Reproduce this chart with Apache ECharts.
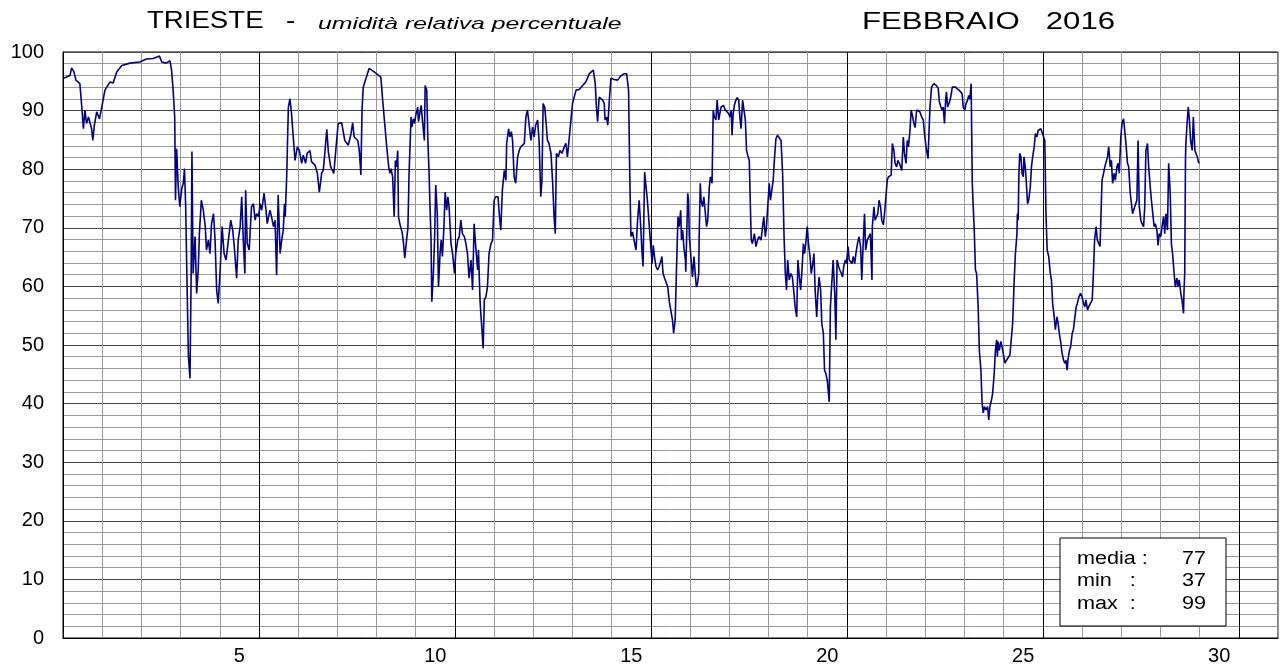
<!DOCTYPE html>
<html>
<head>
<meta charset="utf-8">
<title>Trieste - umidità relativa febbraio 2016</title>
<script src="https://cdn.jsdelivr.net/npm/echarts@6/dist/echarts.min.js"></script>
<style>
  html, body { margin: 0; padding: 0; background: #fff; }
  #chart { width: 1288px; height: 668px; }
</style>
</head>
<body>
<div id="chart"></div>
<script>
  // giorni dall'inizio del mese (0 = 1 febbraio 00:00) e umidità relativa %
  var giorni1 = [0.01,0.18,0.22,0.28,0.33,0.43,0.48,0.52,0.56,0.60,0.65,0.69,0.73,0.76,0.80,0.86,0.93,0.99,1.07,1.20,
    1.28,1.37,1.50,1.71,1.96,2.13,2.30,2.46,2.52,2.63,2.73,2.77,2.81,2.85,2.87,2.90,2.94,2.98,3.03,3.07,
    3.10,3.13,3.16,3.20,3.24,3.27,3.29,3.32,3.37,3.41,3.45,3.48,3.53,3.58,3.63,3.66,3.71,3.75,3.79,3.84,
    3.88,3.92,3.96,4.01,4.06,4.11,4.16,4.22,4.28,4.33,4.37,4.43,4.47,4.52,4.56,4.60,4.64,4.66,4.70,4.75,
    4.81,4.86,4.90,4.94,4.99,5.03,5.07,5.13,5.18,5.21,5.28,5.32,5.37,5.41,5.45,5.49,5.54,5.58,5.62,5.65,
    5.67,5.71,5.75,5.79,5.83,5.88,5.92,5.98,6.03,6.09,6.13,6.19,6.23,6.30,6.34,6.43,6.49,6.54,6.60,6.64,
    6.68,6.73,6.77,6.83,6.88,6.91,6.96,7.02,7.11,7.19,7.28];
  var umidita1 = [95.5,96.0,97.3,96.6,95.2,94.6,90.6,86.9,90.1,87.8,88.9,88.6,86.9,84.9,87.5,89.8,88.6,90.6,93.5,94.9,
    94.7,96.6,97.7,98.1,98.3,98.8,98.9,99.3,98.3,98.1,98.5,96.9,93.5,88.9,74.7,83.5,77.0,73.6,76.7,77.6,
    80.1,73.6,62.2,48.0,44.3,62.2,83.0,62.2,68.5,58.8,62.8,69.0,74.7,73.0,70.2,66.2,67.9,65.6,70.7,72.4,
    67.9,59.4,57.1,62.8,70.2,65.6,64.5,67.9,71.3,69.6,66.8,61.4,67.9,70.2,75.3,67.9,62.2,76.4,67.3,66.2,
    73.6,74.1,71.3,72.4,71.9,74.1,73.0,75.9,73.0,70.7,73.0,71.9,70.2,71.3,61.9,75.6,65.6,67.9,69.6,74.1,
    71.9,79.3,90.6,92.0,89.5,89.8,81.5,83.8,83.2,81.0,82.4,81.0,82.7,83.2,81.3,80.7,79.3,76.1,79.3,79.8,
    82.7,86.8,83.0,80.4,80.1,79.3,83.2,87.8,87.9,84.9,84.1];

  var giorni2 = [7.35,7.39,7.43,7.47,7.52,7.56,7.60,7.63,7.66,7.81,7.94,8.11,8.15,8.20,8.26,8.31,8.34,8.37,8.41,8.45,
    8.48,8.51,8.54,8.56,8.60,8.65,8.68,8.72,8.77,8.80,8.83,8.88,8.90,8.94,8.97,9.00,9.05,9.07,9.11,9.14,
    9.17,9.22,9.24,9.28,9.31,9.34,9.39,9.41,9.45,9.48,9.51,9.55,9.58,9.62,9.65,9.68,9.72,9.75,9.79,9.82,
    9.85,9.90,9.94,9.99,10.02,10.07,10.11,10.15,10.19,10.24,10.28,10.32,10.36,10.41,10.45,10.49,10.53,10.58,10.60,10.64,
    10.66,10.69,10.72,10.75,10.79,10.83,10.87,10.92,10.96,11.00,11.04,11.10,11.13,11.17,11.21,11.26,11.30,11.32,11.37,11.40,
    11.44,11.47,11.51,11.55,11.60,11.64,11.68,11.72,11.77,11.81,11.85,11.89,11.94,11.98,12.02,12.06,12.11,12.15,12.19,12.22,
    12.25,12.29,12.32,12.36,12.40,12.45,12.49,12.53,12.56,12.59,12.64,12.68,12.73,12.79,12.83,12.87,12.91,12.96,13.00,13.09,
    13.17,13.26,13.34,13.43,13.53,13.58,13.61,13.64,13.68,13.72,13.77,13.81,13.83,13.87,13.90,13.94,13.98,14.06,14.15,14.23,
    14.32,14.38,14.43,14.46,14.49,14.53,14.57,14.62,14.66];
  var umidita2 = [86.1,87.9,85.5,85.8,84.9,83.2,79.0,90.1,94.0,97.2,96.6,95.7,92.3,88.4,83.8,80.4,79.3,80.1,78.7,71.9,
    81.5,80.4,83.2,71.9,70.5,69.3,67.9,64.8,68.2,69.9,79.3,88.9,87.2,88.6,87.8,89.2,90.6,88.1,89.8,90.9,
    88.4,84.9,94.3,93.5,84.9,79.3,67.9,57.4,62.2,67.9,77.3,72.4,59.9,65.6,67.9,65.1,70.2,76.1,73.0,75.3,
    73.6,67.3,65.6,62.2,65.6,67.9,68.5,71.3,69.0,68.5,67.3,65.6,61.4,64.5,59.4,70.7,66.8,62.8,66.2,57.7,
    55.4,52.6,49.4,57.7,58.2,59.9,65.6,67.3,67.9,74.7,75.3,75.3,72.4,69.6,76.4,79.8,78.1,84.4,86.9,85.5,
    86.4,84.9,78.7,77.6,82.1,83.2,83.8,83.8,84.4,88.9,90.1,90.3,84.9,87.2,85.5,87.5,88.4,84.4,75.3,78.1,
    91.2,90.6,88.4,84.9,84.4,82.7,78.1,71.9,69.0,82.7,82.1,83.2,82.7,83.8,84.4,82.1,84.9,88.4,91.2,93.5,
    93.6,94.3,94.9,96.3,96.9,94.6,90.6,88.1,92.3,92.0,91.8,91.2,88.4,88.9,87.5,91.8,95.5,95.3,95.2,95.9,
    96.3,96.3,93.5,79.3,68.5,69.3,67.9,66.2,71.3];

  var giorni3 = [14.70,14.74,14.77,14.80,14.84,14.87,14.91,14.96,15.00,15.03,15.06,15.09,15.13,15.17,15.21,15.26,15.28,15.31,15.35,15.38,
    15.43,15.47,15.51,15.55,15.58,15.62,15.65,15.69,15.72,15.76,15.78,15.81,15.84,15.88,15.89,15.94,15.96,15.98,16.02,16.06,
    16.10,16.13,16.16,16.19,16.22,16.23,16.26,16.28,16.32,16.35,16.39,16.42,16.45,16.49,16.52,16.56,16.59,16.62,16.66,16.69,
    16.73,16.76,16.79,16.85,16.90,16.93,16.98,17.02,17.05,17.07,17.10,17.13,17.17,17.20,17.24,17.27,17.30,17.34,17.37,17.41,
    17.44,17.47,17.51,17.53,17.56,17.59,17.64,17.68,17.72,17.76,17.81,17.85,17.88,17.92,17.95,17.98,18.02,18.05,18.09,18.12,
    18.15,18.19,18.23,18.27,18.32,18.36,18.40,18.43,18.46,18.49,18.53,18.57,18.61,18.65,18.68,18.72,18.75,18.78,18.82,18.85,
    18.89,18.92,18.95,18.99,19.02,19.06,19.09,19.12,19.16,19.19,19.23,19.26,19.29,19.33,19.36,19.40,19.43,19.46,19.50,19.55,
    19.58,19.62,19.65,19.69,19.72,19.75,19.79,19.82,19.86,19.89,19.92,19.96,19.99,20.03,20.06,20.09,20.13,20.16,20.20,20.23,
    20.27,20.31,20.35,20.38,20.42,20.45,20.48,20.52,20.57,20.60,20.64,20.65,20.69,20.72,20.76,20.79,20.82,20.86,20.89,20.93,
    20.96,20.99,21.03,21.06,21.10,21.13,21.16,21.20,21.23,21.27,21.30,21.34,21.37,21.40,21.44,21.47,21.51,21.54,21.57,21.61,
    21.64,21.68,21.71,21.74,21.78,21.81,21.86,21.91,21.95,21.98,22.02,22.07];
  var umidita3 = [74.7,70.2,66.2,63.4,79.5,79.3,74.7,70.2,69.9,63.9,67.0,65.1,63.4,62.8,63.4,64.5,65.1,62.2,61.4,61.6,
    59.9,57.4,57.1,54.3,52.0,54.3,62.2,71.9,70.2,73.0,67.9,69.6,66.8,64.5,62.5,75.9,74.7,68.5,65.1,61.6,
    65.1,62.2,59.9,60.5,62.2,67.9,77.6,74.7,73.6,75.3,72.4,70.2,71.3,77.0,78.7,77.6,90.1,88.9,88.4,91.8,
    88.4,88.6,90.6,90.9,90.1,89.8,89.5,88.9,90.1,85.8,89.5,90.9,91.8,92.2,91.8,88.9,86.9,91.8,91.8,88.4,
    83.2,82.4,81.5,75.9,67.9,67.3,69.0,66.8,67.9,68.5,67.9,70.2,71.9,68.5,70.2,73.6,77.6,74.7,76.7,78.1,
    81.5,85.2,85.8,85.5,84.9,79.3,67.9,62.2,59.4,64.5,61.1,62.2,61.6,58.8,56.5,54.8,64.5,62.2,59.4,62.2,
    67.3,65.6,67.3,70.2,67.3,65.1,62.2,63.4,65.6,59.4,54.8,58.8,61.6,59.4,53.7,52.0,45.7,45.2,44.0,40.3,
    56.5,56.5,64.5,58.8,50.9,64.5,63.4,62.8,62.2,61.6,63.4,64.5,63.9,66.8,64.5,64.5,63.9,65.1,63.9,65.6,
    67.3,68.5,66.8,61.1,67.9,72.4,66.2,67.9,68.2,69.0,61.1,70.2,73.6,71.3,71.0,72.4,74.7,73.6,71.3,70.5,
    72.4,74.7,78.1,78.7,78.7,79.0,84.4,83.2,81.0,80.4,81.5,81.0,80.4,79.8,85.5,82.7,81.0,84.9,83.8,86.6,
    90.1,88.9,87.8,87.1,90.1,90.1,89.8,88.9,88.4,86.1,83.8,81.8];

  var giorni4 = [22.12,22.16,22.22,22.28,22.33,22.36,22.40,22.43,22.46,22.49,22.52,22.54,22.57,22.62,22.65,22.69,22.73,22.77,22.81,22.86,
    22.90,22.94,22.97,23.01,23.04,23.08,23.11,23.14,23.17,23.20,23.22,23.25,23.28,23.31,23.35,23.38,23.42,23.45,23.48,23.51,
    23.55,23.59,23.62,23.65,23.69,23.72,23.76,23.79,23.82,23.84,23.86,23.89,23.93,23.96,23.99,24.03,24.06,24.10,24.13,24.16,
    24.20,24.23,24.27,24.30,24.34,24.35,24.37,24.39,24.41,24.44,24.47,24.50,24.52,24.55,24.57,24.61,24.64,24.68,24.71,24.74,
    24.78,24.81,24.85,24.88,24.91,24.95,24.98,25.02,25.05,25.08,25.11,25.15,25.19,25.22,25.25,25.29,25.32,25.36,25.39,25.42,
    25.46,25.49,25.53,25.56,25.59,25.62,25.64,25.68,25.71,25.75,25.78,25.81,25.85,25.88,25.92,25.96,26.00,26.04,26.07,26.10,
    26.14,26.17,26.22,26.26,26.29,26.32,26.36,26.39,26.43,26.46,26.49,26.51,26.55,26.58,26.61,26.65,26.68,26.72,26.75,26.78,
    26.82,26.85,26.89,26.92,26.95,26.99,27.02,27.06,27.09,27.12,27.16,27.19,27.23,27.26,27.29,27.33,27.36,27.40,27.43,27.46,
    27.50,27.53,27.57,27.60,27.63,27.67,27.70,27.74,27.77,27.80,27.84,27.87,27.91,27.94,27.97,28.01,28.04,28.08,28.11,28.14,
    28.18,28.21,28.25,28.28,28.31,28.35,28.38,28.42,28.45,28.48,28.52,28.55,28.59,28.60,28.62,28.64,28.65,28.68,28.71,28.74,
    28.77,28.81,28.84,28.88,28.91,28.94,28.98];
  var umidita4 = [90.6,94.0,94.6,94.3,93.8,91.5,90.6,90.1,90.6,87.8,91.8,93.2,90.6,91.5,92.3,94.0,93.8,94.0,94.0,93.5,
    93.2,92.9,90.6,90.1,91.2,91.8,92.6,92.0,94.6,77.6,74.1,69.6,62.8,62.2,56.5,49.1,45.7,40.1,38.4,39.5,
    38.9,39.5,37.2,39.5,40.6,41.8,45.2,49.1,50.9,48.0,50.6,49.1,50.6,50.3,48.6,46.9,47.2,47.7,47.4,48.3,
    48.0,53.7,61.1,65.6,69.0,72.4,71.3,79.3,82.7,82.1,79.3,78.7,82.1,80.4,78.7,74.1,74.7,77.0,80.4,82.1,
    83.8,86.1,85.5,86.6,86.9,86.9,86.6,85.5,84.9,72.4,66.2,65.1,62.2,61.1,57.1,54.8,52.6,54.8,53.7,52.0,
    50.3,48.6,47.4,46.9,47.4,45.7,47.4,49.1,49.7,52.0,52.6,54.3,56.5,57.1,58.2,58.8,58.2,57.1,56.5,57.7,
    56.0,56.5,56.5,57.7,62.2,67.9,70.2,67.9,67.3,66.8,73.6,78.1,79.3,80.4,80.4,82.1,83.8,80.4,81.5,77.6,
    79.3,78.1,80.4,81.0,79.3,85.5,87.8,88.6,88.4,84.4,81.0,80.4,75.9,74.1,72.4,73.3,73.6,74.7,84.9,73.6,
    71.3,70.7,70.2,73.6,83.2,84.4,80.4,77.0,74.7,74.7,70.2,70.7,69.6,67.0,69.0,68.5,70.2,71.9,69.0,72.4,
    69.6,81.0,75.9,67.3,65.6,62.2,59.9,61.4,59.9,61.1,58.8,57.7,55.4,58.8,62.2,82.1,84.4,87.8,90.6,88.4,
    84.9,83.2,88.9,83.2,83.2,82.1,81.0];

  var giorniMese = ['1','2','3','4','5','6','7','8','9','10','11','12','13','14','15','16',
    '17','18','19','20','21','22','23','24','25','26','27','28','29','30','31'];
  var statNomi = ['media :', 'min   :', 'max  :'];
  var statValori = [77, 37, 99];

  var giorni = giorni1.concat(giorni2, giorni3, giorni4);
  var umidita = umidita1.concat(umidita2, umidita3, umidita4);
  var serie = giorni.map(function (g, i) { return [g, umidita[i]]; });

  var font = '"Liberation Sans", Arial, sans-serif';

  var boxTesti = [];
  statNomi.forEach(function (n, i) {
    var y = 559 + i * 22.5;
    boxTesti.push({
      type: 'text', x: 1077, y: y, scaleX: 1.2, z: 101,
      style: { text: n, fontSize: 18, fontFamily: font, fill: '#000', verticalAlign: 'middle' }
    });
    boxTesti.push({
      type: 'text', x: 1206, y: y, scaleX: 1.2, z: 101,
      style: { text: String(statValori[i]), fontSize: 18, fontFamily: font, fill: '#000',
        align: 'right', verticalAlign: 'middle' }
    });
  });

  var chart = echarts.init(document.getElementById('chart'));
  chart.setOption({
    animation: false,
    backgroundColor: '#fff',
    grid: {
      left: 63, right: 10, top: 52, bottom: 30,
      show: true, borderColor: '#000', borderWidth: 1
    },
    xAxis: [
      {
        type: 'value', min: 0, max: 31, interval: 1,
        axisLine: { show: true, lineStyle: { color: '#000' } },
        axisTick: { show: false },
        axisLabel: { show: false },
        splitLine: { show: true, lineStyle: { color: ['#000', '#999', '#999', '#999', '#999'], width: 1 } }
      },
      {
        type: 'category', position: 'bottom', data: giorniMese, boundaryGap: true,
        axisLine: { show: false }, axisTick: { show: false }, splitLine: { show: false },
        axisLabel: {
          interval: function (i) { return (i + 1) % 5 === 0; },
          fontSize: 20, fontFamily: font, color: '#000', margin: 8
        }
      }
    ],
    yAxis: {
      type: 'value', min: 0, max: 100, interval: 10,
      axisLine: { show: true, lineStyle: { color: '#000' } },
      axisTick: { show: false },
      axisLabel: { fontSize: 20, fontFamily: font, color: '#000', margin: 19 },
      splitLine: { show: true, lineStyle: { color: '#444', width: 1 } },
      minorTick: { show: false, splitNumber: 5 },
      minorSplitLine: { show: true, lineStyle: { color: '#999', width: 1 } }
    },
    graphic: [
      { type: 'text', x: 147, y: 22, scaleX: 1.2,
        style: { text: 'TRIESTE', fontSize: 23, fontFamily: font, fill: '#000', verticalAlign: 'middle' } },
      { type: 'text', x: 286, y: 22, scaleX: 1.2,
        style: { text: '-', fontSize: 23, fontFamily: font, fill: '#000', verticalAlign: 'middle' } },
      { type: 'text', x: 318, y: 24, scaleX: 1.46,
        style: { text: 'umidità relativa percentuale', fontSize: 17, fontStyle: 'italic', fontFamily: font,
          fill: '#000', verticalAlign: 'middle' } },
      { type: 'text', x: 862, y: 22, scaleX: 1.3,
        style: { text: 'FEBBRAIO   2016', fontSize: 24, fontFamily: font, fill: '#000', verticalAlign: 'middle' } },
      { type: 'rect', z: 100,
        shape: { x: 1060, y: 538, width: 166, height: 88 },
        style: { fill: '#fff', stroke: '#000', lineWidth: 1 } }
    ].concat(boxTesti),
    series: [
      {
        type: 'line', xAxisIndex: 0, yAxisIndex: 0,
        data: serie, showSymbol: false, symbol: 'none',
        lineStyle: { color: '#000080', width: 1.6 }
      }
    ]
  });
</script>
</body>
</html>
